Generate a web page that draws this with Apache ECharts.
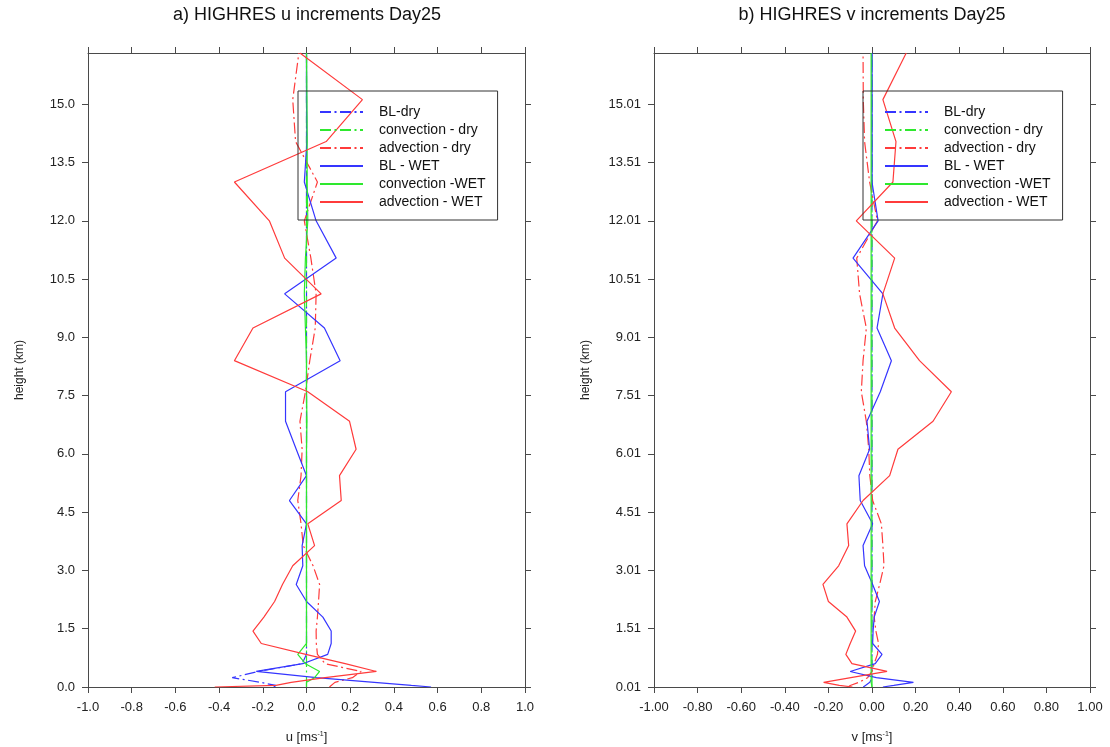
<!DOCTYPE html>
<html>
<head>
<meta charset="utf-8">
<script src="https://cdn.jsdelivr.net/npm/echarts@6/dist/echarts.min.js"></script>
<style>
  html, body { margin: 0; padding: 0; background: #fff; }
  #chart { width: 1110px; height: 747px; }
</style>
</head>
<body>
<div id="chart"></div>
<script>
// Model level heights (km), bottom to top
const levels = [0.01, 0.05, 0.13, 0.25, 0.41, 0.61, 0.85, 1.13, 1.45, 1.81, 2.21, 2.65, 3.13, 3.65, 4.21,
                4.81, 5.45, 6.13, 6.85, 7.61, 8.41, 9.25, 10.13, 11.05, 12.01, 13.01, 14.05, 15.13, 16.33];

// u increments (m/s) at each level
const uBLdry   = [-0.15, -0.14, -0.21, -0.34, -0.22, -0.02, 0, 0, 0, 0, 0, 0, 0, 0, 0,
                  0, 0, 0, 0, 0, 0, 0, 0, 0, 0, 0, 0, 0, 0];
const uConvDry = [0, 0, 0, 0, 0, 0, 0, 0, 0, 0, 0, 0, 0, 0, 0,
                  0, 0, 0, 0, 0, 0, 0, 0, 0, 0, 0, 0, 0, 0];
const uAdvDry  = [0.105, 0.11, 0.13, 0.21, 0.25, 0.085, 0.05, 0.045, 0.044, 0.05, 0.055, 0.06, 0.03, -0.015, -0.025,
                  -0.04, -0.025, -0.02, -0.03, -0.005, 0.015, 0.04, 0.044, 0.02, -0.01, 0.05, -0.05, -0.063, -0.035];
const uBLwet   = [0.57, 0.48, 0.31, 0.045, -0.23, -0.017, 0.097, 0.113, 0.113, 0.075, 0.0, -0.047, -0.017, -0.02, 0.0,
                  -0.078, 0.0, -0.047, -0.096, -0.096, 0.154, 0.082, -0.10, 0.136, 0.044, -0.01, 0.002, 0.0, 0.0];
const uConvWet = [0, 0, 0, 0.037, 0.06, -0.005, -0.04, 0.0, 0.0, 0.0, 0.0, 0.0, 0.0, 0.0, 0.0,
                  0.0, 0.0, 0.0, 0.002, 0.0, 0.0, -0.005, -0.01, -0.005, 0.006, 0.003, 0.003, 0.002, 0.0];
const uAdvWet  = [-0.42, -0.14, -0.07, 0.085, 0.32, 0.177, -0.003, -0.207, -0.245, -0.195, -0.146, -0.11, -0.063, 0.037, 0.006,
                  0.159, 0.151, 0.227, 0.197, 0.006, -0.33, -0.245, 0.067, -0.10, -0.17, -0.33, 0.09, 0.256, -0.03];

// v increments (m/s) at each level
const vBLdry   = [-0.04, -0.03, -0.01, 0, 0, 0, 0, 0, 0, 0, 0, 0, 0, 0, 0,
                  0, 0, 0, 0, 0, 0, 0, 0, 0, 0, 0, 0, 0, 0];
const vConvDry = [0, 0, 0, 0, 0, 0, 0, 0, 0, 0, 0, 0, 0, 0, 0,
                  0, 0, 0, 0, 0, 0, 0, 0, 0, 0, 0, 0, 0, 0];
const vAdvDry  = [-0.11, -0.1, -0.06, -0.02, 0.0, 0.01, 0.025, 0.03, 0.018, 0.01, 0.015, 0.035, 0.055, 0.05, 0.043,
                  0.003, -0.01, -0.015, -0.026, -0.049, -0.041, -0.026, -0.057, -0.07, 0.025, -0.011, -0.034, -0.04, -0.041];
const vBLwet   = [0.05, 0.10, 0.19, 0.02, -0.10, 0.015, 0.046, 0.003, 0.005, 0.01, 0.034, 0.003, -0.034, -0.041, 0.003,
                  -0.054, -0.06, -0.011, -0.023, 0.038, 0.089, 0.023, 0.05, -0.087, 0.028, 0.0, 0.0, 0.0, 0.0];
const vConvWet = [0, -0.003, -0.004, -0.004, -0.004, -0.004, -0.004, -0.004, -0.004, -0.004, -0.004, -0.004, -0.004, -0.004, -0.004,
                  -0.004, -0.004, -0.004, -0.004, -0.004, -0.004, -0.004, -0.004, -0.004, -0.004, -0.004, -0.004, -0.004, -0.004];
const vAdvWet  = [-0.09, -0.15, -0.222, -0.097, 0.069, -0.092, -0.12, -0.1, -0.075, -0.115, -0.2, -0.225, -0.153, -0.107, -0.115,
                  -0.041, 0.081, 0.119, 0.28, 0.364, 0.218, 0.104, 0.05, 0.104, -0.072, 0.096, 0.11, 0.05, 0.157];

// Axis ticks and their labels
const xTicks = [-1.0, -0.8, -0.6, -0.4, -0.2, 0.0, 0.2, 0.4, 0.6, 0.8, 1.0];
const uTickLabels = ['-1.0', '-0.8', '-0.6', '-0.4', '-0.2', '0.0', '0.2', '0.4', '0.6', '0.8', '1.0'];
const vTickLabels = ['-1.00', '-0.80', '-0.60', '-0.40', '-0.20', '0.00', '0.20', '0.40', '0.60', '0.80', '1.00'];
const yTicks = [0.01, 1.51, 3.01, 4.51, 6.01, 7.51, 9.01, 10.51, 12.01, 13.51, 15.01];
const hTickLabelsU = ['0.0', '1.5', '3.0', '4.5', '6.0', '7.5', '9.0', '10.5', '12.0', '13.5', '15.0'];
const hTickLabelsV = ['0.01', '1.51', '3.01', '4.51', '6.01', '7.51', '9.01', '10.51', '12.01', '13.51', '15.01'];

const seriesNames = ['BL-dry', 'convection - dry', 'advection - dry', 'BL - WET', 'convection -WET', 'advection - WET'];
const uSets = [uBLdry, uConvDry, uAdvDry, uBLwet, uConvWet, uAdvWet];
const vSets = [vBLdry, vConvDry, vAdvDry, vBLwet, vConvWet, vAdvWet];

const BLUE = '#3535ff', GREEN = '#2ee82e', RED = '#ff3b3b';
const colors = [BLUE, GREEN, RED, BLUE, GREEN, RED];
const DASHDOT = [11, 3.5, 2, 3.5];
const dashes = [DASHDOT, DASHDOT, DASHDOT, 'solid', 'solid', 'solid'];

const FONT = '"Liberation Sans", Arial, Helvetica, sans-serif';
const AXIS_COLOR = '#4a4a4a';
const yMin = 0.01, yMax = 16.33;

const chart = echarts.init(document.getElementById('chart'), null, { renderer: 'canvas' });

function nearestIndex(arr, v) {
  let best = 0;
  for (let i = 1; i < arr.length; i++) if (Math.abs(arr[i] - v) < Math.abs(arr[best] - v)) best = i;
  return best;
}

function xAxisDef(gridIndex, position, labels, name) {
  return {
    type: 'value', gridIndex, position, min: -1, max: 1,
    axisLine: { show: true, onZero: false, lineStyle: { color: AXIS_COLOR, width: 1 } },
    axisTick: { show: true, length: 6, customValues: xTicks, lineStyle: { color: AXIS_COLOR } },
    axisLabel: labels ? {
      show: true, customValues: xTicks, margin: 14, color: '#222', fontSize: 13, fontFamily: FONT,
      formatter: v => labels[nearestIndex(xTicks, v)]
    } : { show: false },
    splitLine: { show: false },
    name: name || '', nameLocation: 'middle', nameGap: 44,
    nameTextStyle: name ? {
      color: '#222', fontSize: 13, fontFamily: FONT,
      rich: { sup: { fontSize: 7, fontFamily: FONT, color: '#222', verticalAlign: 'top', padding: [0, 0, 6, 0] } }
    } : {}
  };
}

function yAxisDef(gridIndex, position, labels) {
  return {
    type: 'value', gridIndex, position, min: yMin, max: yMax,
    axisLine: { show: true, onZero: false, lineStyle: { color: AXIS_COLOR, width: 1 } },
    axisTick: { show: true, length: 6, customValues: yTicks, lineStyle: { color: AXIS_COLOR } },
    axisLabel: labels ? {
      show: true, customValues: yTicks, margin: 13, color: '#222', fontSize: 13, fontFamily: FONT,
      formatter: v => labels[nearestIndex(yTicks, v)]
    } : { show: false },
    splitLine: { show: false },
    name: labels ? 'height (km)' : '', nameLocation: 'middle', nameGap: 62, nameRotate: 90,
    nameTextStyle: { color: '#222', fontSize: 12, fontFamily: FONT }
  };
}

function panelSeries(sets, xIdx, yIdx) {
  return sets.map((vals, k) => ({
    name: seriesNames[k],
    type: 'line',
    xAxisIndex: xIdx, yAxisIndex: yIdx,
    data: levels.map((h, i) => [vals[i], h]),
    showSymbol: false, symbol: 'none',
    animation: false,
    z: 2 + k,
    lineStyle: { color: colors[k], width: 1.2, type: dashes[k] },
    itemStyle: { color: colors[k] },
    emphasis: { disabled: true }
  }));
}

function legendDef(left) {
  return {
    orient: 'vertical', left, top: 91,
    data: seriesNames,
    itemWidth: 43, itemHeight: 14, itemGap: 4,
    padding: [14, 12, 11, 21],
    borderColor: '#333', borderWidth: 1, borderRadius: 0,
    backgroundColor: 'transparent',
    selectedMode: false,
    itemStyle: { opacity: 0 },
    textStyle: { fontSize: 14, fontFamily: FONT, color: '#111', padding: [0, 0, 0, 11] },
    z: 20
  };
}

const option = {
  animation: false,
  backgroundColor: '#fff',
  grid: [
    { left: 88, top: 53, width: 437, height: 634, outerBoundsMode: 'none', containLabel: false },
    { left: 654, top: 53, width: 436, height: 634, outerBoundsMode: 'none', containLabel: false }
  ],
  xAxis: [
    xAxisDef(0, 'bottom', uTickLabels, 'u [ms{sup|-1}]'),
    xAxisDef(0, 'top', null),
    xAxisDef(1, 'bottom', vTickLabels, 'v [ms{sup|-1}]'),
    xAxisDef(1, 'top', null)
  ],
  yAxis: [
    yAxisDef(0, 'left', hTickLabelsU),
    yAxisDef(0, 'right', null),
    yAxisDef(1, 'left', hTickLabelsV),
    yAxisDef(1, 'right', null)
  ],
  legend: [legendDef(298), legendDef(863)],
  graphic: [
    { type: 'text', x: 307, y: 15, style: { text: 'a) HIGHRES u increments Day25', font: '18px ' + FONT, fill: '#111', textAlign: 'center', textVerticalAlign: 'middle' } },
    { type: 'text', x: 872, y: 15, style: { text: 'b) HIGHRES v increments Day25', font: '18px ' + FONT, fill: '#111', textAlign: 'center', textVerticalAlign: 'middle' } }
  ],
  series: [].concat(panelSeries(uSets, 0, 0), panelSeries(vSets, 2, 2))
};

chart.setOption(option);
</script>
</body>
</html>
